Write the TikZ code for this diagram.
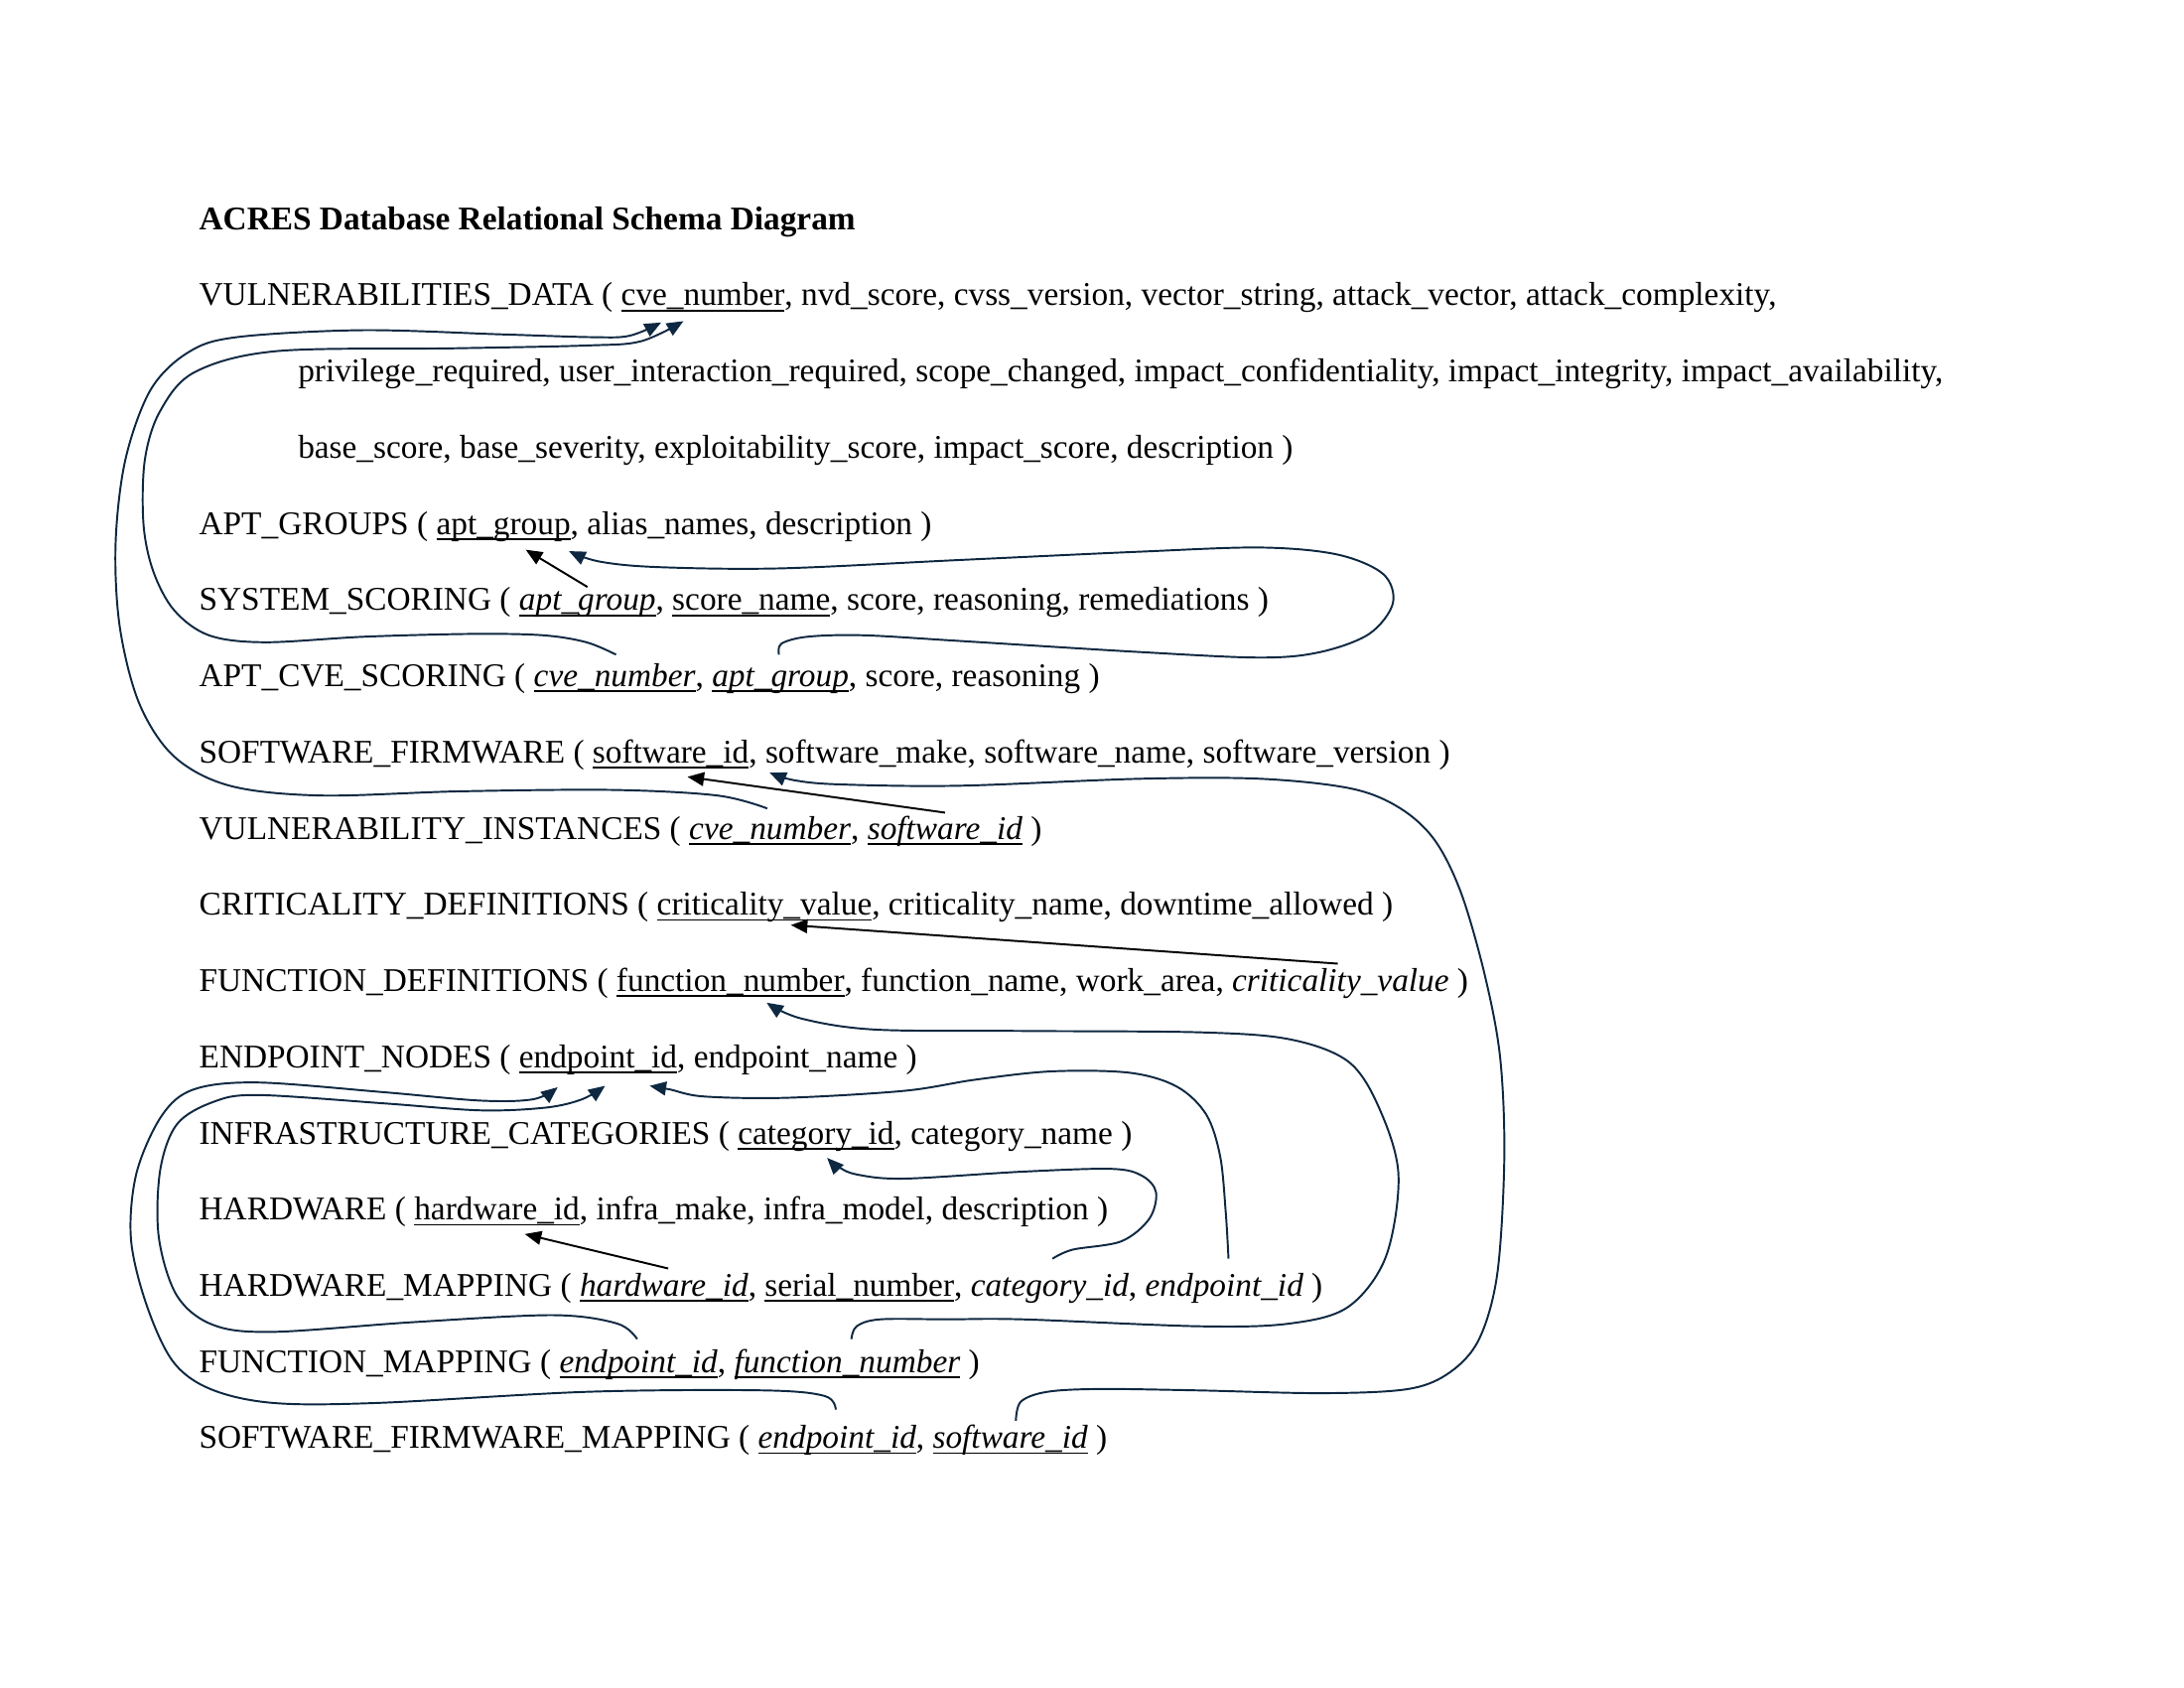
\documentclass[tikz,border=0pt]{standalone}
\usepackage{fontspec}
\setmainfont{Liberation Serif}
\usetikzlibrary{arrows.meta}
\definecolor{lnk}{HTML}{0E2841}
\newcommand\fsz{\fontsize{12pt}{14pt}\selectfont}
\newcommand\ulx[1]{\setbox0=\hbox{#1}\rlap{\rule[-2pt]{\wd0}{0.6pt}}\box0}
\newcommand\uli[1]{\ulx{\itshape #1}}
\newcommand\wsp{\ \null}
\begin{document}
\begin{tikzpicture}[x=0.505102pt,y=-0.505102pt,
  tx/.style={anchor=base west,inner sep=0pt,outer sep=0pt,font=\fsz},
  conn/.style={draw=lnk,line width=0.7pt,-{Triangle[length=6pt,width=5pt]}},
  sarr/.style={draw=black,line width=0.7pt,-{Triangle[length=6pt,width=5pt]}}]
\fill[white] (0,0) rectangle (1568,1211.6);
\useasboundingbox (0,0) rectangle (1568,1211.6);
% title
\node[tx,font=\fsz\bfseries] (title) at (143,164.8) {ACRES Database Relational Schema Diagram};
% line 1-3
\node[tx] (l1a) at (143,219.5) {VULNERABILITIES\_DATA (\wsp};
\node[tx] (vdcve) at (l1a.base east) {\ulx{cve\_number}};
\node[tx] (l1b) at (vdcve.base east) {, nvd\_score, cvss\_version, vector\_string, attack\_vector, attack\_complexity,};
\node[tx] (l2) at (214,274.2) {privilege\_required, user\_interaction\_required, scope\_changed, impact\_confidentiality, impact\_integrity, impact\_availability,};
\node[tx] (l3) at (214,328.9) {base\_score, base\_severity, exploitability\_score, impact\_score, description )};
% APT_GROUPS
\node[tx] (l4a) at (143,383.6) {APT\_GROUPS (\wsp};
\node[tx] (agapt) at (l4a.base east) {\ulx{apt\_group}};
\node[tx] (l4b) at (agapt.base east) {, alias\_names, description )};
% SYSTEM_SCORING
\node[tx] (l5a) at (143,438.3) {SYSTEM\_SCORING (\wsp};
\node[tx] (ssapt) at (l5a.base east) {\uli{apt\_group}};
\node[tx] (l5b) at (ssapt.base east) {,\wsp};
\node[tx] (l5c) at (l5b.base east) {\ulx{score\_name}};
\node[tx] (l5d) at (l5c.base east) {, score, reasoning, remediations )};
% APT_CVE_SCORING
\node[tx] (l6a) at (143,492.9) {APT\_CVE\_SCORING (\wsp};
\node[tx] (acscve) at (l6a.base east) {\uli{cve\_number}};
\node[tx] (l6b) at (acscve.base east) {,\wsp};
\node[tx] (acsapt) at (l6b.base east) {\uli{apt\_group}};
\node[tx] (l6c) at (acsapt.base east) {, score, reasoning )};
% SOFTWARE_FIRMWARE
\node[tx] (l7a) at (143,547.6) {SOFTWARE\_FIRMWARE (\wsp};
\node[tx] (sfsw) at (l7a.base east) {\ulx{software\_id}};
\node[tx] (l7b) at (sfsw.base east) {, software\_make, software\_name, software\_version )};
% VULNERABILITY_INSTANCES
\node[tx] (l8a) at (143,602.3) {VULNERABILITY\_INSTANCES (\wsp};
\node[tx] (vicve) at (l8a.base east) {\uli{cve\_number}};
\node[tx] (l8b) at (vicve.base east) {,\wsp};
\node[tx] (visw) at (l8b.base east) {\uli{software\_id}};
\node[tx] (l8c) at (visw.base east) {\ )};
% CRITICALITY_DEFINITIONS
\node[tx] (l9a) at (143,657.0) {CRITICALITY\_DEFINITIONS (\wsp};
\node[tx] (cdcrit) at (l9a.base east) {\ulx{criticality\_value}};
\node[tx] (l9b) at (cdcrit.base east) {, criticality\_name, downtime\_allowed )};
% FUNCTION_DEFINITIONS
\node[tx] (l10a) at (143,711.7) {FUNCTION\_DEFINITIONS (\wsp};
\node[tx] (fdfn) at (l10a.base east) {\ulx{function\_number}};
\node[tx] (l10b) at (fdfn.base east) {, function\_name, work\_area,\wsp};
\node[tx] (fdcrit) at (l10b.base east) {\itshape criticality\_value};
\node[tx] (l10c) at (fdcrit.base east) {\ )};
% ENDPOINT_NODES
\node[tx] (l11a) at (143,766.4) {ENDPOINT\_NODES (\wsp};
\node[tx] (enep) at (l11a.base east) {\ulx{endpoint\_id}};
\node[tx] (l11b) at (enep.base east) {, endpoint\_name )};
% INFRASTRUCTURE_CATEGORIES
\node[tx] (l12a) at (143,821.1) {INFRASTRUCTURE\_CATEGORIES (\wsp};
\node[tx] (iccat) at (l12a.base east) {\ulx{category\_id}};
\node[tx] (l12b) at (iccat.base east) {, category\_name )};
% HARDWARE
\node[tx] (l13a) at (143,875.8) {HARDWARE (\wsp};
\node[tx] (hwhw) at (l13a.base east) {\ulx{hardware\_id}};
\node[tx] (l13b) at (hwhw.base east) {, infra\_make, infra\_model, description )};
% HARDWARE_MAPPING
\node[tx] (l14a) at (143,930.5) {HARDWARE\_MAPPING (\wsp};
\node[tx] (hmhw) at (l14a.base east) {\uli{hardware\_id}};
\node[tx] (l14b) at (hmhw.base east) {,\wsp};
\node[tx] (l14c) at (l14b.base east) {\ulx{serial\_number}};
\node[tx] (l14d) at (l14c.base east) {,\wsp};
\node[tx] (hmcat) at (l14d.base east) {\itshape category\_id};
\node[tx] (l14e) at (hmcat.base east) {,\wsp};
\node[tx] (hmep) at (l14e.base east) {\itshape endpoint\_id};
\node[tx] (l14f) at (hmep.base east) {\ )};
% FUNCTION_MAPPING
\node[tx] (l15a) at (143,985.2) {FUNCTION\_MAPPING (\wsp};
\node[tx] (fmep) at (l15a.base east) {\uli{endpoint\_id}};
\node[tx] (l15b) at (fmep.base east) {,\wsp};
\node[tx] (fmfn) at (l15b.base east) {\uli{function\_number}};
\node[tx] (l15c) at (fmfn.base east) {\ )};
% SOFTWARE_FIRMWARE_MAPPING
\node[tx] (l16a) at (143,1039.8) {SOFTWARE\_FIRMWARE\_MAPPING (\wsp};
\node[tx] (sfmep) at (l16a.base east) {\uli{endpoint\_id}};
\node[tx] (l16b) at (sfmep.base east) {,\wsp};
\node[tx] (sfmsw) at (l16b.base east) {\uli{software\_id}};
\node[tx] (l16c) at (sfmsw.base east) {\ )};

% connector end points
\coordinate (c1s) at ([shift={(-2,-22)}]vicve.base);
\coordinate (c1e) at ([shift={(-30,12)}]vdcve.base);
\coordinate (c2s) at ([shift={(1,-23)}]acscve.base);
\coordinate (c2e) at ([shift={(-14,11)}]vdcve.base);
\coordinate (c3s) at ([shift={(-1,-23)}]acsapt.base);
\coordinate (c3e) at ([shift={(47,12)}]agapt.base);
\coordinate (c4s) at ([shift={(4,-20)}]sfmsw.base);
\coordinate (c4e) at ([shift={(71,7)}]sfsw.base);
\coordinate (c5s) at ([shift={(3,-24)}]fmfn.base);
\coordinate (c5e) at ([shift={(26,8)}]fdfn.base);
\coordinate (c6s) at ([shift={(3,-27)}]hmep.base);
\coordinate (c6e) at ([shift={(37,13)}]enep.base);
\coordinate (c7s) at ([shift={(2,-27)}]hmcat.base);
\coordinate (c7e) at ([shift={(8,10)}]iccat.base);
\coordinate (c8s) at ([shift={(-1,-24)}]fmep.base);
\coordinate (c8e) at ([shift={(5,13)}]enep.base);
\coordinate (c9s) at ([shift={(-1,-28)}]sfmep.base);
\coordinate (c9e) at ([shift={(-29,14)}]enep.base);

% curved connectors
\draw[conn] plot[smooth,tension=0.55] coordinates {(c1s) (515,571) (440,567) (330,568) (230,571) (165,564) (125,543) (100,505) (86,450) (83,390) (90,330) (108,280) (135,253) (170,242) (260,237) (360,240) (425,242) (452,241) (c1e)};
\draw[conn] plot[smooth,tension=0.55] coordinates {(c2s) (421,461) (390,456) (340,455) (262,457) (190,461) (150,456) (125,438) (110,410) (103,376) (104,330) (115,295) (140,267) (199,252) (326,250) (421,248) (460,245) (c2e)};
\draw[conn] plot[smooth,tension=0.55] coordinates {(c3s) (561,462) (580,457) (620,456) (688,460) (818,468) (905,472) (948,468) (983,455) (1000,433) (993,412) (960,398) (905,393) (818,396) (688,402) (559,408) (471,407) (430,403) (c3e)};
\draw[conn] plot[smooth,tension=0.55] coordinates {(c4s) (733,1006) (752,999) (790,997) (860,998) (950,1000) (1011,997) (1041,985) (1062,961) (1075,914) (1080,831) (1077,759) (1066,700) (1049,641) (1030,603) (1005,580) (970,566) (905,559) (818,559) (688,564) (602,563) (570,560) (c4e)};
\draw[conn] plot[smooth,tension=0.55] coordinates {(c5s) (615,952) (632,947) (680,947) (734,947) (862,952) (926,950) (968,938) (995,902) (1004,843) (990,795) (968,762) (926,746) (862,741) (734,740) (628,739) (575,731) (c5e)};
\draw[conn] plot[smooth,tension=0.55] coordinates {(c6s) (880,870) (876,830) (866,800) (845,780) (811,770) (755,769) (700,775) (649,783) (564,788) (505,787) (481,782) (c6e)};
\draw[conn] plot[smooth,tension=0.55] coordinates {(c7s) (770,897) (805,891) (825,875) (830,856) (820,844) (798,839) (734,841) (649,846) (615,843) (601,837) (c7e)};
\draw[conn] plot[smooth,tension=0.55] coordinates {(c8s) (443,950) (397,944) (297,949) (196,956) (153,951) (127,930) (114,888) (115,840) (127,807) (153,791) (185,786) (276,792) (345,797) (392,795) (418,789) (c8e)};
\draw[conn] plot[smooth,tension=0.55] coordinates {(c9s) (592,1002) (548,998) (422,999) (271,1007) (196,1007) (151,997) (124,977) (105,936) (94,889) (98,842) (116,801) (139,782) (185,777) (276,784) (345,790) (383,789) (c9e)};

% straight connectors
\draw[sarr] ([shift={(0,-17)}]ssapt.base) -- ([shift={(16,11)}]agapt.base);
\draw[sarr] ([shift={(0,-19)}]visw.base) -- ([shift={(12,10)}]sfsw.base);
\draw[sarr] ([shift={(-2,-20)}]fdcrit.base) -- ([shift={(19,7)}]cdcrit.base);
\draw[sarr] ([shift={(3,-20)}]hmhw.base) -- ([shift={(20,10)}]hwhw.base);
\end{tikzpicture}
\end{document}
